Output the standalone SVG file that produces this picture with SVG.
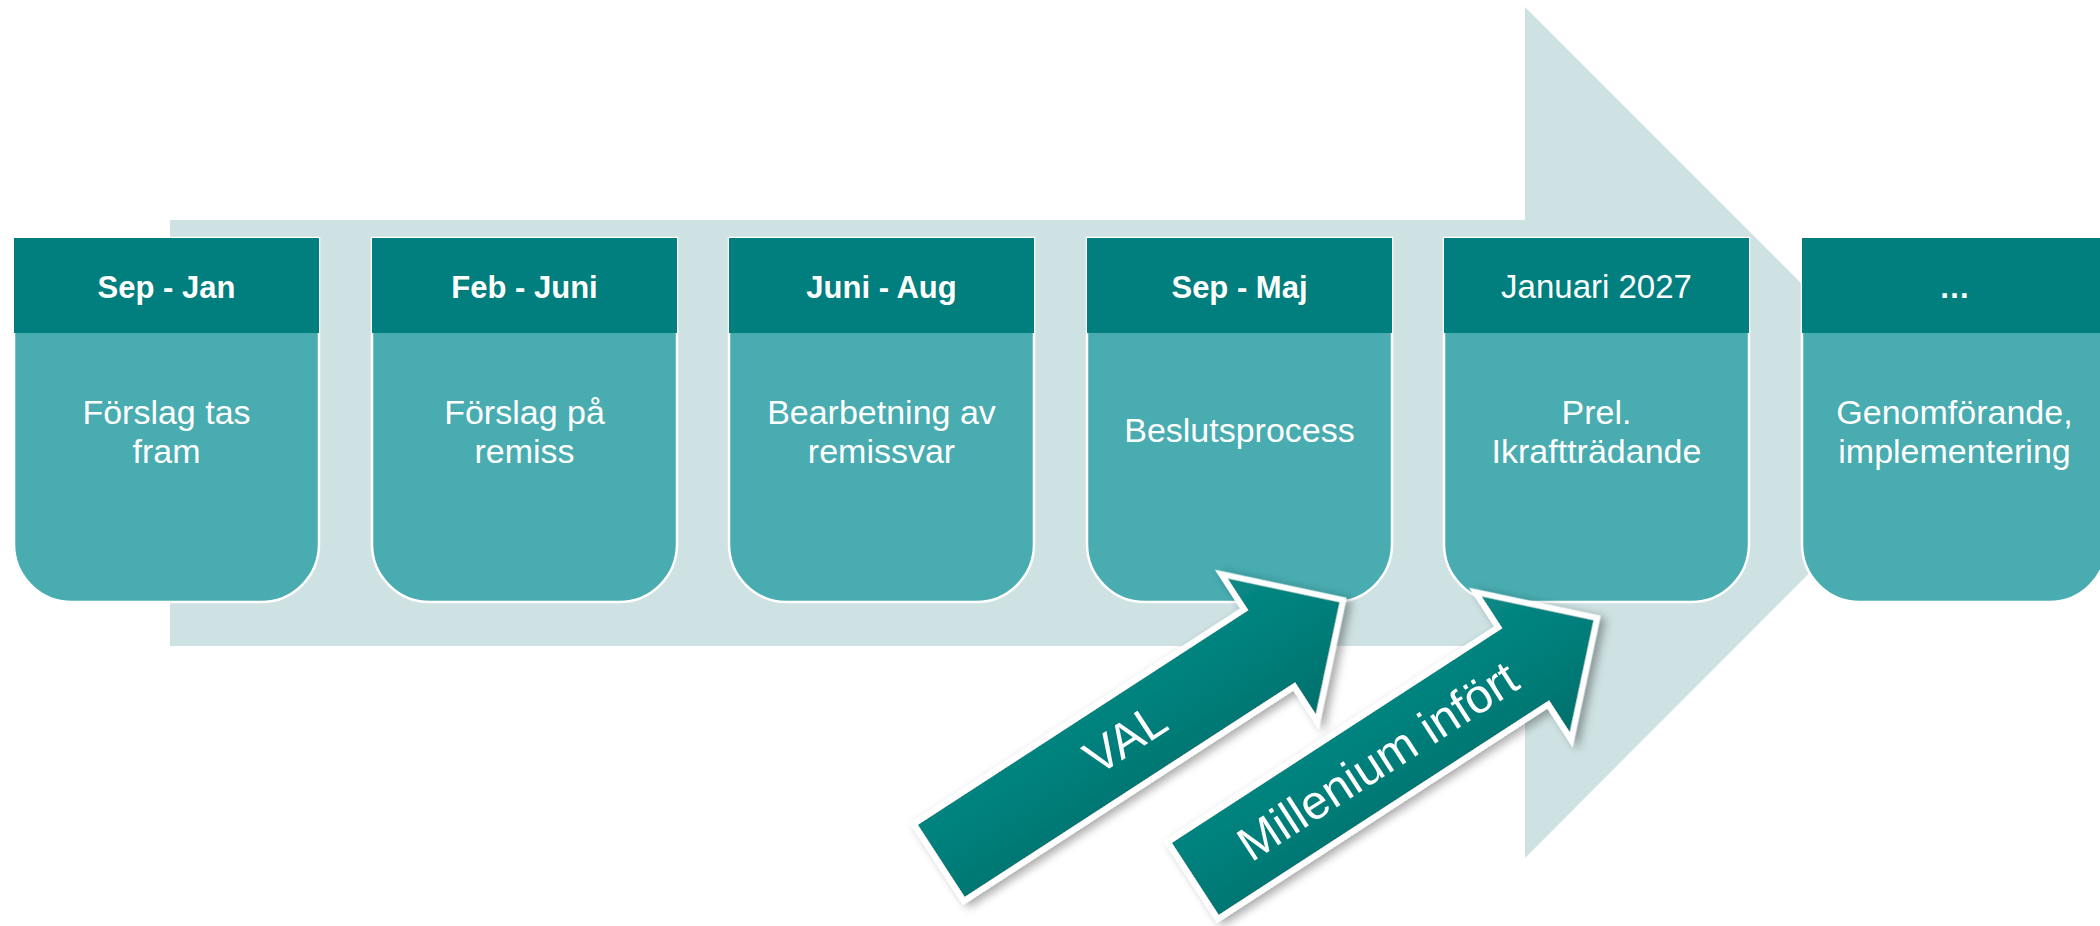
<svg xmlns="http://www.w3.org/2000/svg" width="2100" height="926" viewBox="0 0 2100 926">
  <style>
    .bg { fill: #cfe2e3; }
    .body { fill: #48acb0; stroke: #ffffff; stroke-width: 2.5; }
    .head { fill: #007f7e; }
    .ht { font-family: "Liberation Sans", Arial, sans-serif; font-size: 31px; font-weight: bold; fill: #ffffff; text-anchor: middle; }
    .htr { font-family: "Liberation Sans", Arial, sans-serif; font-size: 33px; fill: #ffffff; text-anchor: middle; }
    .bt { font-family: "Liberation Sans", Arial, sans-serif; font-size: 34px; fill: #ffffff; text-anchor: middle; }
    .arr { fill: url(#arrGrad); stroke: #ffffff; stroke-width: 6; stroke-linejoin: miter; filter: url(#shadow); }
    .at { font-family: "Liberation Sans", Arial, sans-serif; font-size: 48px; fill: #ffffff; text-anchor: middle; }
  </style>
  <defs>
    <path id="bodyShape" d="M0,238 H305 V544 A58 58 0 0 1 247,602 H58 A58 58 0 0 1 0,544 Z"/>
    <path id="callout" d="M0,0 L-88,-88 L-88,-46 L-482,-46 L-482,46 L-88,46 L-88,88 Z"/>
    <linearGradient id="arrGrad" x1="0" y1="0" x2="0" y2="1">
      <stop offset="0" stop-color="#0a8a86"/>
      <stop offset="0.5" stop-color="#007e7a"/>
      <stop offset="1" stop-color="#006f6b"/>
    </linearGradient>
    <filter id="shadow" x="-20%" y="-30%" width="140%" height="160%">
      <feDropShadow dx="3" dy="5" stdDeviation="5" flood-color="#000000" flood-opacity="0.35"/>
    </filter>
  </defs>

  <g id="background-arrow">
    <polygon class="bg" points="170,220 1525,220 1525,7 1950,432 1525,858 1525,646 170,646"/>
  </g>

  <g id="node-1" transform="translate(14,0)">
    <use href="#bodyShape" class="body"/>
    <rect class="head" x="0" y="238" width="305" height="95"/>
    <text class="ht" x="152.5" y="298">Sep - Jan</text>
    <text class="bt" x="152.5" y="424">Förslag tas</text>
    <text class="bt" x="152.5" y="463">fram</text>
  </g>
  <g id="node-2" transform="translate(372,0)">
    <use href="#bodyShape" class="body"/>
    <rect class="head" x="0" y="238" width="305" height="95"/>
    <text class="ht" x="152.5" y="298">Feb - Juni</text>
    <text class="bt" x="152.5" y="424">Förslag på</text>
    <text class="bt" x="152.5" y="463">remiss</text>
  </g>
  <g id="node-3" transform="translate(729,0)">
    <use href="#bodyShape" class="body"/>
    <rect class="head" x="0" y="238" width="305" height="95"/>
    <text class="ht" x="152.5" y="298">Juni - Aug</text>
    <text class="bt" x="152.5" y="424">Bearbetning av</text>
    <text class="bt" x="152.5" y="463">remissvar</text>
  </g>
  <g id="node-4" transform="translate(1087,0)">
    <use href="#bodyShape" class="body"/>
    <rect class="head" x="0" y="238" width="305" height="95"/>
    <text class="ht" x="152.5" y="298">Sep - Maj</text>
    <text class="bt" x="152.5" y="442">Beslutsprocess</text>
  </g>
  <g id="node-5" transform="translate(1444,0)">
    <use href="#bodyShape" class="body"/>
    <rect class="head" x="0" y="238" width="305" height="95"/>
    <text class="htr" x="152.5" y="298">Januari 2027</text>
    <text class="bt" x="152.5" y="424">Prel.</text>
    <text class="bt" x="152.5" y="463">Ikraftträdande</text>
  </g>
  <g id="node-6" transform="translate(1802,0)">
    <use href="#bodyShape" class="body"/>
    <rect class="head" x="0" y="238" width="305" height="95"/>
    <text class="ht" x="152.5" y="298">…</text>
    <text class="bt" x="152.5" y="424">Genomförande,</text>
    <text class="bt" x="152.5" y="463">implementering</text>
  </g>

  <g id="connectors">
    <g id="arrow-val" transform="translate(1343,600) rotate(-33)">
      <use href="#callout" class="arr"/>
      <text class="at" x="-258" y="14">VAL</text>
    </g>
    <g id="arrow-millenium" transform="translate(1597,618) rotate(-33)">
      <use href="#callout" class="arr"/>
      <text class="at" x="-262" y="17">Millenium infört</text>
    </g>
  </g>
</svg>
